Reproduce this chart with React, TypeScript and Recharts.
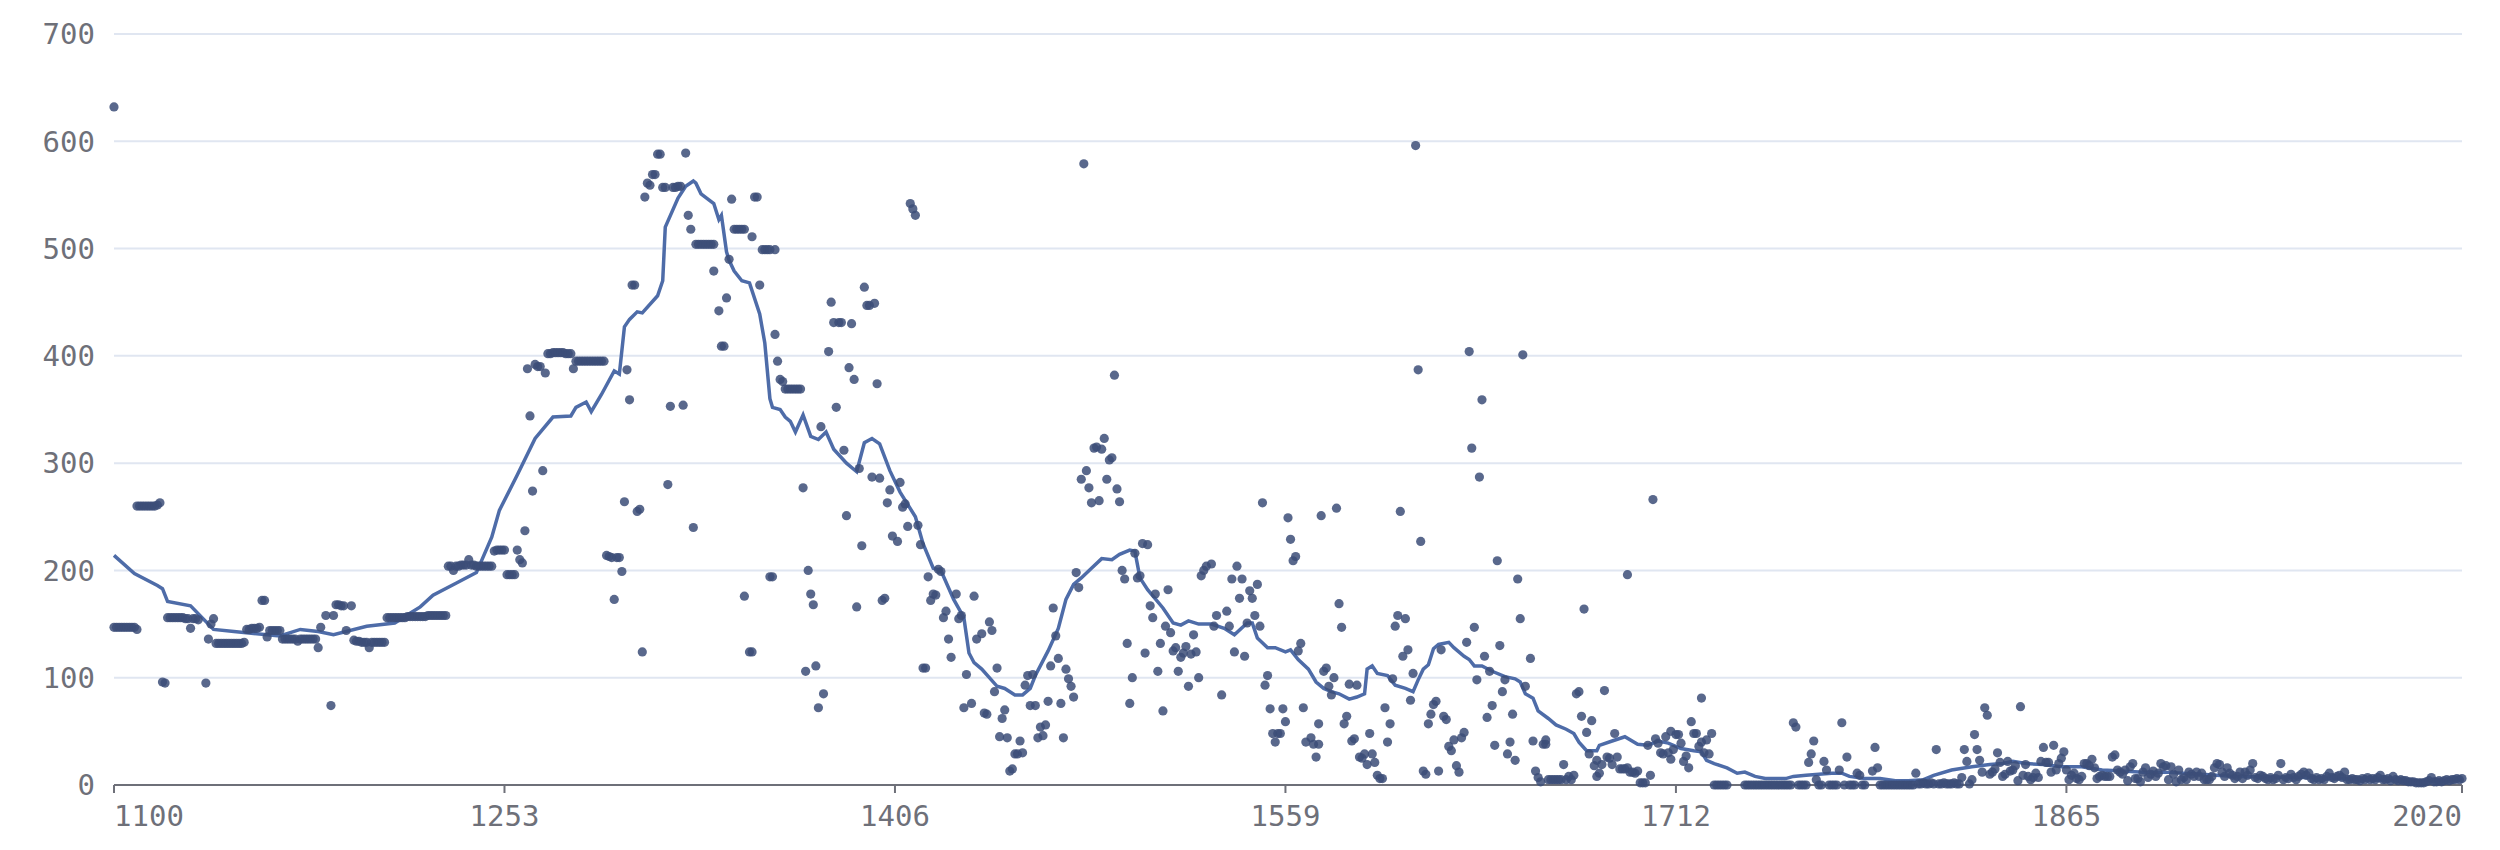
import React from "react";
import {
  ComposedChart,
  Scatter,
  Line,
  XAxis,
  YAxis,
  CartesianGrid,
} from "recharts";

// yearly observations, [year, value]
const pts1100: [number, number][] = [
  [1100, 632], [1100, 147], [1101, 147], [1102, 147], [1103, 147], [1104, 147], [1105, 147], [1106, 147], [1107, 147], [1108, 147], [1109, 145],
  [1109, 260], [1110, 260], [1111, 260], [1112, 260], [1113, 260], [1114, 260], [1115, 260], [1116, 260], [1117, 261], [1118, 263],
  [1119, 96], [1120, 95],
  [1121, 156], [1122, 156], [1123, 156], [1124, 156], [1125, 156], [1126, 156], [1127, 156], [1128, 155], [1129, 155], [1130, 146], [1131, 155], [1132, 155], [1133, 154],
  [1136, 95], [1137, 136], [1138, 150], [1139, 155],
  [1140, 132], [1141, 132], [1142, 132], [1143, 132], [1144, 132], [1145, 132], [1146, 132], [1147, 132], [1148, 132], [1149, 132], [1150, 132], [1151, 133],
  [1152, 145], [1153, 145], [1154, 146], [1155, 146], [1156, 146], [1157, 147],
  [1158, 172], [1159, 172], [1160, 138],
  [1161, 144], [1162, 144], [1163, 144], [1164, 144], [1165, 144],
  [1166, 136], [1167, 136], [1168, 136], [1169, 136], [1170, 136], [1171, 136], [1172, 134], [1173, 136], [1174, 136], [1175, 136], [1176, 136], [1177, 136], [1178, 136], [1179, 136],
  [1180, 128], [1181, 147], [1183, 158], [1185, 74], [1186, 158], [1187, 168], [1188, 168], [1189, 167], [1190, 167], [1191, 144], [1193, 167],
  [1194, 135], [1195, 134], [1196, 134], [1197, 133], [1198, 133], [1199, 133], [1200, 128], [1201, 133], [1202, 133], [1203, 133], [1204, 133], [1205, 133], [1206, 133],
  [1207, 156], [1208, 156], [1209, 156], [1210, 156], [1211, 156], [1212, 156], [1213, 156], [1214, 156], [1215, 157], [1216, 157], [1217, 157], [1218, 157], [1219, 157], [1220, 157],
  [1221, 157], [1222, 157], [1223, 158], [1224, 158], [1225, 158], [1226, 158], [1227, 158], [1228, 158], [1229, 158], [1230, 158],
];

const pts1231: [number, number][] = [
  [1231, 204], [1232, 204], [1233, 200], [1234, 204], [1235, 204], [1236, 205], [1237, 205], [1238, 205], [1239, 210], [1240, 205], [1241, 205], [1242, 204],
  [1243, 204], [1244, 204], [1245, 204], [1246, 204], [1247, 204], [1248, 204],
  [1249, 218], [1250, 219], [1251, 219], [1252, 219], [1253, 219],
  [1254, 196], [1255, 196], [1256, 196], [1257, 196], [1258, 219], [1259, 210], [1260, 207], [1261, 237], [1262, 388], [1263, 344], [1264, 274],
  [1265, 392], [1266, 390], [1267, 390], [1268, 293], [1269, 384],
  [1270, 402], [1271, 402], [1272, 403], [1273, 403], [1274, 403], [1275, 403], [1276, 403], [1277, 402], [1278, 402], [1279, 402], [1280, 388],
  [1281, 395], [1282, 395], [1283, 395], [1284, 395], [1285, 395], [1286, 395], [1287, 395], [1288, 395], [1289, 395], [1290, 395], [1291, 395], [1292, 395],
  [1293, 214], [1294, 213], [1295, 212], [1296, 173], [1297, 212], [1298, 212], [1299, 199], [1300, 264], [1301, 387], [1302, 359], [1303, 466], [1304, 466],
  [1305, 255], [1306, 257], [1307, 124], [1308, 548], [1309, 561], [1310, 559], [1311, 569], [1312, 569], [1313, 588], [1314, 588], [1315, 557], [1316, 557],
  [1317, 280], [1318, 353], [1319, 557], [1320, 557], [1321, 558], [1322, 558], [1323, 354], [1324, 589], [1325, 531], [1326, 518], [1327, 240],
  [1328, 504], [1329, 504], [1330, 504], [1331, 504], [1332, 504], [1333, 504], [1334, 504], [1335, 504], [1335, 479], [1337, 442], [1338, 409], [1339, 409],
];

const pts1340: [number, number][] = [
  [1340, 454], [1341, 490], [1342, 546], [1343, 518], [1344, 518], [1345, 518], [1346, 518], [1347, 518], [1347, 176], [1349, 124], [1350, 124], [1350, 511],
  [1351, 548], [1352, 548], [1353, 466], [1354, 499], [1355, 499], [1356, 499], [1357, 499], [1357, 194], [1358, 194], [1359, 499], [1359, 420], [1360, 395],
  [1361, 378], [1362, 376], [1363, 369], [1364, 369], [1365, 369], [1366, 369], [1367, 369], [1368, 369], [1369, 369], [1370, 277], [1371, 106], [1372, 200],
  [1373, 178], [1374, 168], [1375, 111], [1376, 72], [1377, 334], [1378, 85], [1380, 404], [1381, 450], [1382, 431], [1383, 352], [1384, 431], [1385, 431],
  [1386, 312], [1387, 251], [1388, 389], [1389, 430], [1390, 378], [1391, 166], [1392, 295], [1393, 223], [1394, 464], [1395, 447], [1396, 447], [1397, 287],
  [1398, 449], [1399, 374], [1400, 286], [1401, 172], [1402, 174], [1403, 263], [1404, 275], [1405, 232], [1407, 227], [1408, 282], [1409, 259], [1410, 262],
  [1411, 241], [1412, 542], [1413, 537], [1414, 531], [1415, 242], [1416, 224], [1417, 109], [1418, 109], [1419, 194], [1420, 172], [1421, 178], [1422, 177],
  [1423, 201], [1424, 199], [1425, 156], [1426, 162], [1427, 136], [1428, 119], [1430, 178], [1431, 155], [1432, 158], [1433, 72], [1434, 103], [1436, 76],
  [1437, 176], [1438, 136], [1440, 141], [1441, 67], [1442, 66], [1443, 152], [1444, 144], [1445, 87], [1446, 109], [1447, 45], [1448, 62], [1449, 70],
  [1450, 44], [1451, 13], [1452, 15], [1453, 29], [1454, 29], [1455, 41], [1456, 30],
];

const pts1457: [number, number][] = [
  [1457, 93], [1458, 102], [1459, 74], [1460, 103], [1461, 74], [1462, 44], [1463, 54], [1464, 46], [1465, 56], [1466, 78], [1467, 111], [1468, 165],
  [1469, 139], [1470, 118], [1471, 76], [1472, 44], [1473, 108], [1474, 99], [1475, 92], [1476, 82], [1477, 198], [1478, 184], [1479, 285], [1480, 579],
  [1481, 293], [1482, 277], [1483, 263], [1484, 314], [1485, 315], [1486, 265], [1487, 313], [1488, 323], [1489, 285], [1490, 303], [1491, 305], [1492, 382],
  [1493, 276], [1494, 264], [1495, 200], [1496, 192], [1497, 132], [1498, 76], [1499, 100], [1500, 216], [1501, 193], [1502, 195], [1503, 225], [1504, 123],
  [1505, 224], [1506, 167], [1507, 156], [1508, 178], [1509, 106], [1510, 132], [1511, 69], [1512, 148], [1513, 182], [1514, 142], [1515, 125], [1516, 128],
  [1517, 106], [1518, 119], [1519, 123], [1520, 129], [1521, 92], [1522, 122], [1523, 140], [1524, 124], [1525, 100], [1526, 195], [1527, 200], [1528, 204],
  [1530, 206], [1531, 148], [1532, 158], [1534, 84], [1536, 162], [1537, 148], [1538, 192], [1539, 124], [1540, 204], [1541, 174], [1542, 192], [1543, 120],
  [1544, 151], [1545, 181], [1546, 174], [1547, 158], [1548, 187], [1549, 148], [1550, 263], [1551, 93], [1552, 102], [1553, 71], [1554, 48], [1555, 40],
  [1556, 48], [1557, 48], [1558, 71], [1559, 59], [1560, 249], [1561, 229], [1562, 209], [1563, 213], [1564, 125], [1565, 132], [1566, 72], [1567, 40],
  [1569, 44], [1570, 38], [1571, 26], [1572, 38], [1572, 57], [1573, 251],
];

const pts1574: [number, number][] = [
  [1574, 106], [1575, 109], [1576, 92], [1577, 84], [1578, 100], [1579, 258], [1580, 169], [1581, 147], [1582, 57], [1583, 64], [1584, 94], [1585, 41],
  [1586, 43], [1587, 93], [1588, 26], [1589, 25], [1590, 29], [1591, 19], [1592, 48], [1593, 29], [1594, 21], [1595, 9], [1596, 6], [1597, 6],
  [1598, 72], [1599, 40], [1600, 57], [1601, 99], [1602, 148], [1603, 158], [1604, 255], [1605, 120], [1606, 155], [1607, 126], [1608, 79], [1609, 104],
  [1610, 596], [1611, 387], [1612, 227], [1613, 13], [1614, 10], [1615, 57], [1616, 66], [1617, 75], [1618, 78], [1619, 13], [1620, 126], [1621, 64],
  [1622, 61], [1623, 36], [1624, 32], [1625, 42], [1626, 18], [1627, 12], [1628, 44], [1629, 49], [1630, 133], [1631, 404], [1632, 314], [1633, 147],
  [1634, 98], [1635, 287], [1636, 359], [1637, 120], [1638, 63], [1639, 106], [1640, 74], [1641, 37], [1642, 209], [1643, 130], [1644, 87], [1645, 98],
  [1646, 29], [1647, 40], [1648, 66], [1649, 23], [1650, 192], [1651, 155], [1652, 401], [1653, 92], [1655, 118], [1656, 41], [1657, 13], [1658, 7],
  [1659, 3], [1660, 38], [1661, 38], [1661, 42],
  [1662, 5], [1663, 5], [1664, 5], [1665, 5], [1666, 5], [1667, 5], [1668, 19], [1669, 5], [1670, 8], [1671, 5], [1672, 9],
  [1673, 85], [1674, 87], [1675, 64], [1676, 164], [1677, 49], [1678, 29], [1679, 60], [1680, 18], [1681, 23], [1681, 8], [1682, 11], [1683, 19],
  [1684, 88], [1685, 26], [1686, 25], [1687, 19], [1688, 48], [1689, 26], [1690, 15],
];

const pts1691: [number, number][] = [
  [1691, 15], [1692, 15], [1693, 196], [1693, 16], [1694, 12], [1695, 12], [1696, 11], [1697, 13], [1698, 2], [1699, 2], [1700, 2], [1701, 37],
  [1702, 9], [1703, 266], [1704, 43], [1705, 39], [1706, 30], [1707, 29], [1708, 45], [1709, 30], [1710, 24], [1710, 50], [1711, 33], [1712, 47],
  [1713, 47], [1714, 39], [1715, 22], [1716, 27], [1717, 16], [1718, 59], [1719, 48], [1720, 48], [1721, 36], [1722, 40], [1722, 81], [1723, 30],
  [1724, 42], [1725, 29], [1726, 48],
  [1727, 0], [1728, 0], [1729, 0], [1730, 0], [1731, 0], [1732, 0],
  [1739, 0], [1740, 0], [1741, 0], [1742, 0], [1743, 0], [1744, 0], [1745, 0], [1746, 0], [1747, 0], [1748, 0], [1749, 0], [1750, 0], [1751, 0],
  [1752, 0], [1753, 0], [1754, 0], [1755, 0], [1756, 0], [1757, 0], [1758, 58], [1759, 54], [1760, 0], [1761, 0], [1762, 0], [1763, 0], [1764, 21],
  [1765, 29], [1766, 41], [1767, 5], [1768, 0], [1769, 0], [1770, 22], [1771, 14], [1772, 0], [1773, 0], [1774, 0], [1775, 0], [1776, 14], [1777, 58],
  [1778, 0], [1779, 26], [1780, 0], [1781, 0], [1782, 0], [1783, 11], [1784, 9], [1785, 0], [1786, 0], [1789, 13], [1790, 35], [1791, 16],
  [1792, 0], [1793, 0], [1794, 0], [1795, 0], [1796, 0], [1797, 0], [1798, 0], [1799, 0], [1800, 0], [1801, 0], [1802, 0], [1803, 0], [1804, 0],
  [1805, 0], [1806, 11],
];

const pts1807: [number, number][] = [
  [1807, 1], [1808, 1], [1809, 2], [1810, 1], [1811, 1], [1812, 2], [1813, 1], [1814, 33], [1815, 1], [1816, 1], [1817, 2], [1818, 1], [1819, 1],
  [1820, 1], [1821, 2], [1822, 1], [1823, 1], [1824, 7], [1825, 33], [1826, 22], [1827, 1], [1828, 5], [1829, 47], [1830, 33], [1831, 23], [1832, 12],
  [1833, 72], [1834, 65], [1835, 10], [1836, 12], [1837, 15], [1838, 30], [1839, 21], [1840, 8], [1841, 10], [1842, 22], [1843, 13], [1844, 14],
  [1845, 18], [1846, 4], [1847, 73], [1848, 9], [1849, 19], [1850, 8], [1851, 5], [1852, 7], [1853, 11], [1854, 7], [1855, 22], [1856, 35],
  [1857, 21], [1858, 21], [1859, 12], [1860, 37], [1861, 14], [1862, 20], [1863, 25], [1864, 31], [1865, 14], [1866, 5], [1867, 9], [1868, 11],
  [1869, 6], [1870, 5], [1871, 8], [1872, 20], [1873, 20], [1874, 18], [1875, 24], [1876, 16], [1877, 6], [1878, 8], [1879, 9], [1880, 8],
  [1881, 8], [1882, 8], [1883, 26], [1884, 28], [1885, 14], [1886, 12], [1887, 10], [1888, 14], [1889, 4], [1890, 17], [1891, 20], [1892, 6],
  [1893, 6], [1894, 3], [1895, 12], [1896, 16], [1897, 7], [1898, 10], [1899, 13], [1900, 8], [1901, 11], [1902, 20], [1903, 17], [1904, 18],
  [1905, 5], [1906, 17], [1907, 10], [1908, 3], [1909, 14], [1910, 5], [1911, 7], [1912, 5], [1913, 12], [1914, 10], [1915, 8], [1916, 12],
  [1917, 8], [1918, 11],
];

const pts1919: [number, number][] = [
  [1919, 5], [1920, 5], [1921, 5], [1922, 8], [1923, 16], [1924, 20], [1925, 19], [1926, 12], [1927, 8], [1928, 16], [1929, 11], [1930, 9],
  [1931, 6], [1932, 8], [1933, 12], [1934, 6], [1935, 12], [1936, 9], [1937, 14], [1938, 20], [1939, 7], [1940, 6], [1941, 9], [1942, 8],
  [1943, 6], [1944, 5], [1945, 7], [1946, 5], [1947, 6], [1948, 9], [1949, 20], [1950, 5], [1951, 7], [1952, 6], [1953, 10], [1954, 7],
  [1955, 5], [1956, 8], [1957, 10], [1958, 12], [1959, 9], [1960, 11], [1961, 6], [1962, 5], [1963, 7], [1964, 5], [1965, 6], [1966, 5],
  [1967, 8], [1968, 11], [1969, 7], [1970, 6], [1971, 8], [1972, 9], [1973, 7], [1974, 12], [1975, 5], [1976, 5], [1977, 6], [1978, 5],
  [1979, 5], [1980, 4], [1981, 6], [1982, 5], [1983, 7], [1984, 5], [1985, 6], [1986, 5], [1987, 7], [1988, 9], [1989, 5], [1990, 5],
  [1991, 6], [1992, 4], [1993, 8], [1994, 5], [1995, 4], [1996, 5], [1997, 4], [1998, 4], [1999, 3], [2000, 3], [2001, 3], [2002, 2],
  [2003, 2], [2004, 2], [2005, 2], [2006, 3], [2007, 4], [2008, 7], [2009, 3], [2010, 3], [2011, 4], [2012, 3], [2013, 4], [2014, 5],
  [2015, 4], [2016, 5], [2017, 5], [2018, 6], [2019, 5], [2020, 6],
];

// smoothed trend line
const trendEarly: [number, number][] = [
  [1100, 214], [1108, 197], [1117, 186], [1119, 183], [1121, 171], [1130, 167], [1139, 145], [1147, 143], [1160, 140], [1165, 139], [1173, 145],
  [1180, 143], [1186, 140], [1199, 148], [1210, 151], [1216, 160], [1220, 166], [1225, 177], [1234, 188], [1242, 198], [1248, 231], [1251, 256],
  [1258, 289], [1265, 323], [1272, 343], [1279, 344], [1281, 352], [1285, 357], [1287, 348], [1291, 364], [1296, 386], [1298, 383], [1300, 427],
  [1302, 434], [1305, 441], [1307, 440], [1313, 456], [1315, 470], [1316, 520], [1321, 547], [1324, 558], [1327, 563], [1328, 561], [1330, 551],
  [1335, 542], [1337, 527], [1338, 531], [1340, 497], [1341, 489], [1343, 479], [1346, 470], [1349, 468], [1353, 439], [1355, 412], [1357, 360],
  [1358, 352], [1361, 350], [1363, 343], [1365, 339], [1367, 329], [1370, 345], [1373, 325], [1376, 322], [1379, 329], [1382, 313], [1387, 300],
  [1391, 292], [1394, 319], [1397, 323], [1400, 318], [1404, 293], [1408, 273], [1414, 250], [1417, 225], [1421, 202], [1424, 200], [1429, 173],
  [1433, 156], [1435, 123], [1437, 114], [1440, 108], [1446, 92], [1449, 90], [1453, 84], [1456, 84], [1459, 90], [1461, 102], [1466, 125],
  [1470, 146], [1473, 173], [1476, 187], [1479, 193], [1483, 202], [1487, 211], [1491, 210], [1494, 215], [1498, 219], [1500, 218], [1502, 193],
  [1505, 182], [1511, 165], [1515, 151], [1518, 149], [1521, 153], [1525, 150], [1530, 150], [1535, 146], [1539, 140], [1544, 151], [1546, 151],
  [1548, 137], [1552, 128], [1555, 128], [1559, 124], [1561, 126], [1564, 117],
];

const trendLate: [number, number][] = [
  [1568, 108], [1571, 96], [1574, 90], [1577, 87], [1580, 85], [1584, 80], [1587, 82], [1590, 85], [1591, 108], [1593, 111], [1595, 104],
  [1599, 102], [1602, 93], [1606, 90], [1609, 87], [1611, 98], [1613, 108], [1615, 112], [1617, 127], [1619, 131], [1623, 133], [1625, 128],
  [1629, 120], [1631, 117], [1633, 111], [1636, 111], [1640, 106], [1645, 101], [1649, 99], [1651, 96], [1653, 85], [1656, 81], [1658, 69],
  [1662, 62], [1665, 56], [1669, 52], [1672, 48], [1674, 40], [1677, 32], [1681, 32], [1682, 37], [1687, 41], [1692, 45], [1697, 38],
  [1701, 37], [1705, 41], [1709, 39], [1714, 34], [1719, 32], [1722, 31], [1724, 23], [1727, 20], [1732, 16], [1736, 11], [1739, 12],
  [1743, 8], [1747, 6], [1755, 6], [1758, 8], [1763, 9], [1768, 10], [1773, 11], [1777, 11], [1780, 8], [1786, 6], [1792, 6], [1798, 4],
  [1803, 4], [1809, 5], [1813, 9], [1820, 14], [1828, 17], [1835, 19], [1840, 20], [1844, 22], [1849, 20], [1856, 19], [1863, 17], [1871, 17],
  [1879, 14], [1887, 13], [1895, 12], [1903, 12], [1911, 11], [1918, 10], [1931, 8], [1958, 7], [1984, 5], [2003, 3], [2020, 5],
];

const yearTicks = [1100, 1253, 1406, 1559, 1712, 1865, 2020];
const valueTicks = [0, 100, 200, 300, 400, 500, 600, 700];

const toRows = (list: [number, number][]) => list.map(([year, value]) => ({ year, value }));

const scatterRows = toRows([
  ...pts1100, ...pts1231, ...pts1340, ...pts1457, ...pts1574, ...pts1691, ...pts1807, ...pts1919,
]);
const trendRows = toRows([...trendEarly, ...trendLate]);

const FONT = "'DejaVu Sans Mono', monospace";
const AXIS_GRAY = "#6E7079";

const YearTick = (props: any) => {
  const { x, y, payload } = props;
  const v = payload.value;
  const anchor = v === yearTicks[0] ? "start" : v === yearTicks[yearTicks.length - 1] ? "end" : "middle";
  return (
    <text x={x} y={y} dy="0.71em" textAnchor={anchor} fill={AXIS_GRAY} fontSize={29} fontFamily={FONT}>
      {v}
    </text>
  );
};

const Dot = (props: any) => {
  const { cx, cy } = props;
  if (cx == null || cy == null) return null;
  return <circle cx={cx} cy={cy} r={4.6} fill="#3c4d78" fillOpacity={0.85} />;
};

export default function App() {
  return (
    <div style={{ position: "absolute", left: 0, top: 0, width: 2500, height: 850, background: "#fff" }}>
      <ComposedChart width={2500} height={850} margin={{ top: 34, right: 38, bottom: 15, left: 14 }}>
        <CartesianGrid vertical={false} stroke="#E0E6F1" strokeWidth={2} />
        <XAxis
          dataKey="year"
          type="number"
          domain={[1100, 2020]}
          ticks={yearTicks}
          height={50}
          tickSize={8}
          tickMargin={12}
          axisLine={{ stroke: AXIS_GRAY, strokeWidth: 2 }}
          tickLine={{ stroke: AXIS_GRAY, strokeWidth: 2 }}
          tick={<YearTick />}
          interval={0}
        />
        <YAxis
          dataKey="value"
          type="number"
          domain={[0, 700]}
          ticks={valueTicks}
          width={100}
          axisLine={false}
          tickLine={false}
          tickSize={0}
          tickMargin={19}
          tick={{ fill: AXIS_GRAY, fontSize: 29, fontFamily: FONT }}
        />
        <Scatter data={scatterRows} dataKey="value" shape={<Dot />} isAnimationActive={false} />
        <Line
          data={trendRows}
          dataKey="value"
          type="linear"
          stroke="#4e6ca8"
          strokeWidth={3.5}
          dot={false}
          activeDot={false}
          isAnimationActive={false}
        />
      </ComposedChart>
    </div>
  );
}
